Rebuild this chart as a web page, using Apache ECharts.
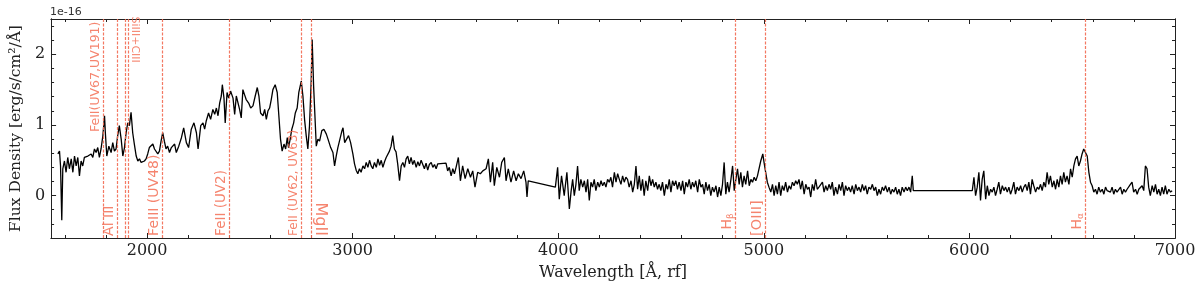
<!DOCTYPE html>
<html><head><meta charset="utf-8">
<script src="https://cdn.jsdelivr.net/npm/echarts@6/dist/echarts.min.js"></script>
<style>html,body{margin:0;padding:0;background:#fff}#c{width:1200px;height:286px}</style>
</head><body><div id="c"></div>
<script>
// ---------- data (flux in units of 1e-16 erg/s/cm^2/Å) ----------
const seg1Wave = [1566,1574,1579,1585,1590,1598,1606,1614,1622,1631,
 1639,1647,1655,1663,1671,1679,1687,1695,1703,1712,
 1720,1728,1736,1744,1752,1760,1768,1776,1785,1793,
 1797,1804,1814,1825,1833,1841,1849,1857,1865,1874,
 1882,1890,1898,1906,1914,1922,1930,1938,1947,1955,
 1963,1971,1979,1987,1995,2003,2011,2019,2028,2036,
 2044,2052,2060,2068,2076,2084,2092,2100,2109];
const seg1Flux = [0.59,0.63,0.42,-0.35,0.38,0.49,0.33,0.54,0.38,0.52,
 0.33,0.56,0.42,0.54,0.28,0.49,0.42,0.54,0.52,0.56,
 0.54,0.59,0.54,0.66,0.61,0.68,0.54,0.66,0.85,1.13,
 0.89,0.56,0.70,0.61,0.75,0.63,0.66,0.85,0.99,0.80,
 0.56,0.68,0.89,1.03,0.99,1.18,0.89,0.73,0.56,0.49,
 0.52,0.47,0.45,0.49,0.52,0.59,0.68,0.66,0.73,0.66,
 0.68,0.59,0.63,0.77,0.89,0.77,0.66,0.70,0.61];

const seg2Wave = [2118,2134,2142,2154,2167,2178,2191,2202,2215,2228,
 2240,2248,2261,2272,2280,2288,2299,2309,2320,2329,
 2337,2345,2353,2361,2366,2374,2380,2389,2397,2406,
 2418,2426,2434,2442,2450,2458,2466,2474,2482,2494,
 2504,2515,2526,2536,2544,2552,2564,2572,2580,2588,
 2596,2604,2612,2623,2633,2640,2649,2657,2666,2674,
 2682,2688,2696,2704,2713,2721,2730,2738,2750,2758,
 2766,2774,2782,2790,2798,2803,2810,2823,2831,2839,
 2850,2860,2872,2880,2893,2904,2912,2920,2928,2936,
 2948,2953,2961,2969,2980,2990];
const seg2Flux = [0.68,0.73,0.61,0.70,0.82,0.96,0.75,0.68,0.94,1.03,
 0.89,0.66,0.99,1.03,0.94,1.06,1.17,1.08,1.22,1.15,
 1.24,1.13,1.31,1.41,1.57,1.38,1.03,1.46,1.38,1.48,
 1.38,1.15,1.41,1.43,1.22,1.10,1.50,1.43,1.36,1.31,
 1.24,1.27,1.41,1.53,1.41,1.17,1.13,1.22,1.08,1.20,
 1.24,1.36,1.50,1.57,1.46,1.17,0.80,0.63,0.73,0.66,
 0.82,0.68,0.80,0.94,1.03,1.17,1.24,1.46,1.62,1.41,
 1.08,0.85,0.66,0.99,1.60,2.21,1.55,0.70,0.80,0.77,
 0.92,0.94,0.87,0.80,0.68,0.61,0.42,0.56,0.68,0.70,
 0.92,0.96,0.75,0.73,0.85,0.75];

const seg3Wave = [3001,3009,3017,3025,3033,3041,3050,3058,3066,3074,
 3082,3090,3098,3106,3115,3123,3131,3139,3147,3155,
 3163,3171,3179,3187,3195,3203,3211,3219,3228,3236,
 3244,3252,3260,3268,3276,3284,3292,3300,3309,3317,
 3325,3333,3341,3349,3357,3365,3373,3382,3390,3398,
 3406,3414,3422,3454,3462,3470,3479,3487,3495,3503,
 3514,3524,3535,3547,3560,3573,3584,3595,3608,3621,
 3633,3649,3660,3670,3681,3689,3701,3714,3725,3738,
 3746,3757,3770,3783,3795,3806,3819,3832,3843,3848,
 3854,3986,3997,4005,4016,4029,4042,4054];
const seg3Flux = [0.59,0.45,0.36,0.31,0.38,0.33,0.42,0.38,0.47,0.40,
 0.50,0.42,0.38,0.47,0.40,0.52,0.43,0.50,0.40,0.48,
 0.54,0.52,0.63,0.70,0.85,0.66,0.62,0.45,0.21,0.42,
 0.47,0.40,0.52,0.56,0.45,0.54,0.44,0.50,0.40,0.48,
 0.42,0.50,0.52,0.38,0.46,0.36,0.44,0.47,0.40,0.44,
 0.38,0.45,0.46,0.46,0.35,0.40,0.28,0.38,0.31,0.40,
 0.54,0.21,0.42,0.24,0.38,0.26,0.35,0.12,0.33,0.31,
 0.35,0.38,0.52,0.19,0.47,0.14,0.40,0.26,0.47,0.54,
 0.21,0.38,0.19,0.35,0.21,0.31,0.24,0.35,0.19,-0.02,
 0.21,0.12,0.40,-0.05,0.28,0.00,0.33,-0.19];

const seg4Wave = [4062,4070,4078,4086,4094,4102,4110,4119,4127,4135,
 4143,4151,4159,4167,4175,4183,4192,4200,4208,4216,
 4224,4232,4240,4248,4256,4264,4273,4281,4289,4297,
 4305,4313,4321,4329,4337,4345,4354,4362,4370,4378,
 4386,4394,4402,4410,4418,4426,4435,4443,4451,4459,
 4467,4475,4483,4491,4499,4507,4516,4524,4532,4540,
 4548,4556,4564,4572,4580,4588,4597,4605,4613,4621,
 4629,4637,4645,4653,4661,4669,4678,4686,4694,4702,
 4710,4718,4726,4734,4742,4750,4758,4767,4775,4783,
 4791,4799,4807,4815,4823,4831,4840,4848,4856,4864,
 4872,4880,4888,4896,4904,4912,4921,4929,4937,4945,
 4953,4961,4969,4977,4985];
const seg4Flux = [0.05,0.23,0.00,0.16,0.42,0.07,0.23,0.12,0.21,0.05,
 0.23,-0.07,0.19,0.12,0.23,0.07,0.19,0.12,0.21,0.14,
 0.19,0.12,0.23,0.19,0.26,0.12,0.33,0.19,0.31,0.23,
 0.16,0.28,0.19,0.26,0.23,0.12,0.21,0.05,0.16,0.42,
 0.09,0.28,0.07,0.23,0.00,0.21,0.07,0.28,0.14,0.23,
 0.12,0.19,0.09,0.16,0.07,0.19,0.00,0.16,0.09,0.23,
 0.05,0.21,0.14,0.21,0.09,0.19,0.07,0.21,0.02,0.19,
 0.12,0.23,0.09,0.19,0.12,0.21,0.05,0.23,0.12,0.16,
 0.02,0.19,0.07,0.16,0.00,0.12,0.05,0.14,-0.02,0.12,
 0.00,0.16,0.47,0.02,0.19,0.05,0.23,0.42,0.07,0.23,
 0.38,0.16,0.33,0.12,0.28,0.16,0.35,0.14,0.23,0.19,
 0.26,0.21,0.28,0.26,0.49];

const seg5Wave = [4990,4995,5001,5009,5017,5025,5034,5042,5050,5058,
 5066,5074,5082,5090,5098,5106,5115,5123,5131,5139,
 5147,5155,5163,5171,5179,5187,5196,5204,5212,5220,
 5228,5236,5244,5252,5260,5268,5277,5285,5293,5301,
 5309,5317,5325,5333,5341,5349,5358,5366,5374,5382,
 5390,5398,5406,5414,5422,5430,5439,5447,5455,5463,
 5471,5479,5487,5495,5503,5511,5520,5528,5536,5544,
 5552,5560,5568,5576,5584,5592,5601,5609,5617,5625,
 5633,5641,5649,5657,5665,5673,5682,5690,5698,5706,
 5714,5722,5727];
const seg5Flux = [0.54,0.59,0.47,0.33,0.19,0.12,0.05,0.16,0.00,0.14,
 0.02,0.19,0.00,0.14,0.07,0.19,0.05,0.14,0.09,0.19,
 0.14,0.21,0.16,0.23,0.09,0.21,0.02,0.16,0.09,0.12,
 -0.02,0.16,0.07,0.23,0.09,0.12,0.14,0.19,0.05,0.14,
 0.07,0.16,0.09,0.19,0.00,0.12,0.02,0.16,0.07,0.19,
 0.00,0.14,0.07,0.12,0.05,0.14,0.02,0.16,0.07,0.12,
 0.05,0.16,0.07,0.14,0.02,0.12,0.09,0.16,0.07,0.12,
 0.00,0.09,0.02,0.12,0.07,0.14,0.05,0.12,0.02,0.09,
 0.05,0.12,0.02,0.09,0.00,0.12,0.05,0.12,0.07,0.12,
 0.05,0.28,0.07];

const seg6Wave = [6014,6022,6030,6038,6046,6054,6062,6070,6079,6087,
 6095,6103,6111,6119,6127,6135,6143,6151,6160,6168,
 6176,6184,6192,6200,6208,6216,6224,6232,6241,6249,
 6257,6265,6273,6281,6289,6297,6305,6313,6322,6330,
 6338,6346,6354,6362,6370,6378,6386,6394,6403,6411,
 6419,6427,6435,6443,6451,6459,6467,6475,6484,6492,
 6500,6508,6516,6524,6532,6540,6548,6556,6565,6573,
 6581,6589,6597,6605,6613,6621,6629,6637,6646,6654,
 6662,6670,6678,6686,6694,6702,6710,6718,6727,6735,
 6743,6751,6759,6767,6775,6783,6791,6799,6808,6816,
 6824,6832,6840,6848,6856,6864,6872,6880,6889,6897,
 6905,6913,6921,6929,6937,6945,6953,6961,6970,6978,
 6986];
const seg6Flux = [0.07,0.26,0.00,0.12,0.33,-0.07,0.23,0.35,-0.05,0.14,
 0.00,0.09,0.05,0.12,0.00,0.09,0.19,0.02,0.14,0.07,
 0.12,0.05,0.12,0.02,0.09,0.19,0.02,0.12,0.07,0.14,
 0.05,0.12,0.16,0.07,0.19,0.02,0.23,0.14,0.05,0.12,
 0.09,0.16,0.07,0.19,0.12,0.33,0.16,0.28,0.12,0.21,
 0.09,0.23,0.12,0.28,0.16,0.33,0.19,0.28,0.16,0.38,
 0.26,0.42,0.52,0.56,0.42,0.49,0.59,0.66,0.68,0.56,
 0.33,0.19,0.14,0.05,0.09,0.02,0.12,0.05,0.09,0.02,
 0.12,0.07,0.09,0.05,0.12,0.02,0.09,0.05,0.07,0.12,
 0.02,0.09,0.05,0.09,0.07,0.16,0.19,0.05,0.09,0.02,
 0.09,0.07,0.14,0.07,0.42,0.38,0.12,0.00,0.14,0.05,
 0.16,0.02,0.09,0.00,0.12,0.02,0.14,0.02,0.09,0.05,
 0.07];

// emission line markers
const markerWaves = [1787, 1857, 1895, 1909, 2075, 2400, 2750, 2798, 4861, 5007, 6563];
const labelNames = ['FeII(UV67,UV191)', 'Al III', 'SiIII+CIII', 'FeIII (UV48)', 'FeII (UV2)',
  'FeII (UV62, UV63)', 'MgII', 'Hβ', '[OIII]', 'Hα'];
const labelWaves = [1787, 1857, 1909, 2075, 2400, 2750, 2798, 4861, 5007, 6563];

// axis ticks
const xMajorTicks = [2000, 3000, 4000, 5000, 6000, 7000];
const xMinorTicks = [1600,1800,2200,2400,2600,2800,3200,3400,3600,3800,4200,4400,4600,4800,5200,5400,5600,5800,6200,6400,6600,6800];
const yMajorTicks = [0, 1, 2];
const yMinorTicks = [-0.4,-0.2,0.2,0.4,0.6,0.8,1.2,1.4,1.6,1.8,2.2,2.4];

// ---------- chart ----------
const X_MIN = 1533, X_MAX = 7000, Y_MIN = -0.6, Y_MAX = 2.5;
const spectrum = [];
[[seg1Wave,seg1Flux],[seg2Wave,seg2Flux],[seg3Wave,seg3Flux],[seg4Wave,seg4Flux],[seg5Wave,seg5Flux],[seg6Wave,seg6Flux]]
  .forEach(([w, f]) => w.forEach((x, i) => spectrum.push([x, f[i]])));

const LABEL_COLOR = '#f2654a';
const LINE_COLOR = '#f26a52';
const labelLayout = {
  'FeII(UV67,UV191)': {y: 0.90, rot: 90, size: 12.5},
  'Al III': {y: -0.57, rot: 90, size: 14},
  'SiIII+CIII': {y: 1.88, rot: -90, size: 11},
  'FeIII (UV48)': {y: -0.57, rot: 90, size: 14},
  'FeII (UV2)': {y: -0.57, rot: 90, size: 13.5},
  'FeII (UV62, UV63)': {y: -0.57, rot: 90, size: 12},
  'MgII': {y: -0.57, rot: -90, size: 16},
  'Hβ': {y: -0.48, rot: 90, size: 14, rich: 'H{s|β}'},
  '[OIII]': {y: -0.57, rot: 90, size: 14.5},
  'Hα': {y: -0.48, rot: 90, size: 14, rich: 'H{s|α}'}
};
const labelData = labelNames.map((n, i) => {
  const L = labelLayout[n];
  return {
    value: [labelWaves[i], L.y],
    label: {
      show: true, position: 'inside', rotate: L.rot,
      align: L.rot > 0 ? 'left' : 'right', verticalAlign: 'bottom',
      formatter: L.rich || n, fontSize: L.size, fontFamily: 'DejaVu Sans',
      color: LABEL_COLOR, lineHeight: L.size + 2,
      rich: {s: {fontSize: 9, color: LABEL_COLOR, fontFamily: 'DejaVu Sans', verticalAlign: 'bottom', lineHeight: L.size + 2}}
    }
  };
});

const AX = '#222';
const serif = 'DejaVu Serif';
function xAx(pos, ticks, len, labels) {
  return {
    type: 'value', position: pos, min: X_MIN, max: X_MAX,
    name: labels ? 'Wavelength [Å, rf]' : '', nameLocation: 'middle', nameGap: 27,
    nameTextStyle: {fontFamily: serif, fontSize: 16, color: AX},
    axisLine: {show: true, onZero: false, lineStyle: {color: AX, width: 1}},
    axisTick: {show: true, inside: true, length: len, customValues: ticks, lineStyle: {color: AX, width: 1}},
    axisLabel: {show: labels, customValues: ticks, margin: 5, fontFamily: serif, fontSize: 16, color: AX,
                formatter: v => String(v)},
    splitLine: {show: false}
  };
}
function yAx(pos, ticks, len, labels) {
  return {
    type: 'value', position: pos, min: Y_MIN, max: Y_MAX,
    name: labels ? 'Flux Density [erg/s/cm²/Å]' : '', nameLocation: 'middle', nameGap: 22,
    nameTextStyle: {fontFamily: serif, fontSize: 15.5, color: AX},
    axisLine: {show: true, onZero: false, lineStyle: {color: AX, width: 1}},
    axisTick: {show: true, inside: true, length: len, customValues: ticks, lineStyle: {color: AX, width: 1}},
    axisLabel: {show: labels, customValues: ticks, margin: 6, fontFamily: serif, fontSize: 16, color: AX,
                formatter: v => String(v)},
    splitLine: {show: false}
  };
}

const chart = echarts.init(document.getElementById('c'), null, {renderer: 'canvas'});
chart.setOption({
  animation: false,
  backgroundColor: '#fff',
  grid: {left: 50, right: 25, top: 19, bottom: 47},
  xAxis: [xAx('bottom', xMajorTicks, 5, true), xAx('bottom', xMinorTicks, 3, false),
          xAx('top', xMajorTicks, 5, false), xAx('top', xMinorTicks, 3, false)],
  yAxis: [yAx('left', yMajorTicks, 5, true), yAx('left', yMinorTicks, 3, false),
          yAx('right', yMajorTicks, 5, false), yAx('right', yMinorTicks, 3, false)],
  graphic: [{type: 'text', left: 50, top: 7, style: {text: '1e-16', font: '11px "DejaVu Sans"', fill: '#333'}}],
  series: [
    {
      type: 'line', xAxisIndex: 0, yAxisIndex: 0, data: spectrum, showSymbol: false,
      lineStyle: {color: '#000', width: 1.3}, z: 3,
      markLine: {
        silent: true, symbol: ['none', 'none'], label: {show: false},
        lineStyle: {color: LINE_COLOR, type: [3, 1.5], width: 1.2, opacity: 0.9},
        data: markerWaves.map(w => ({xAxis: w}))
      }
    },
    {
      type: 'scatter', xAxisIndex: 0, yAxisIndex: 0, symbolSize: 1,
      itemStyle: {color: 'rgba(0,0,0,0)'}, silent: true, z: 4, data: labelData
    }
  ]
});
</script>
</body></html>
